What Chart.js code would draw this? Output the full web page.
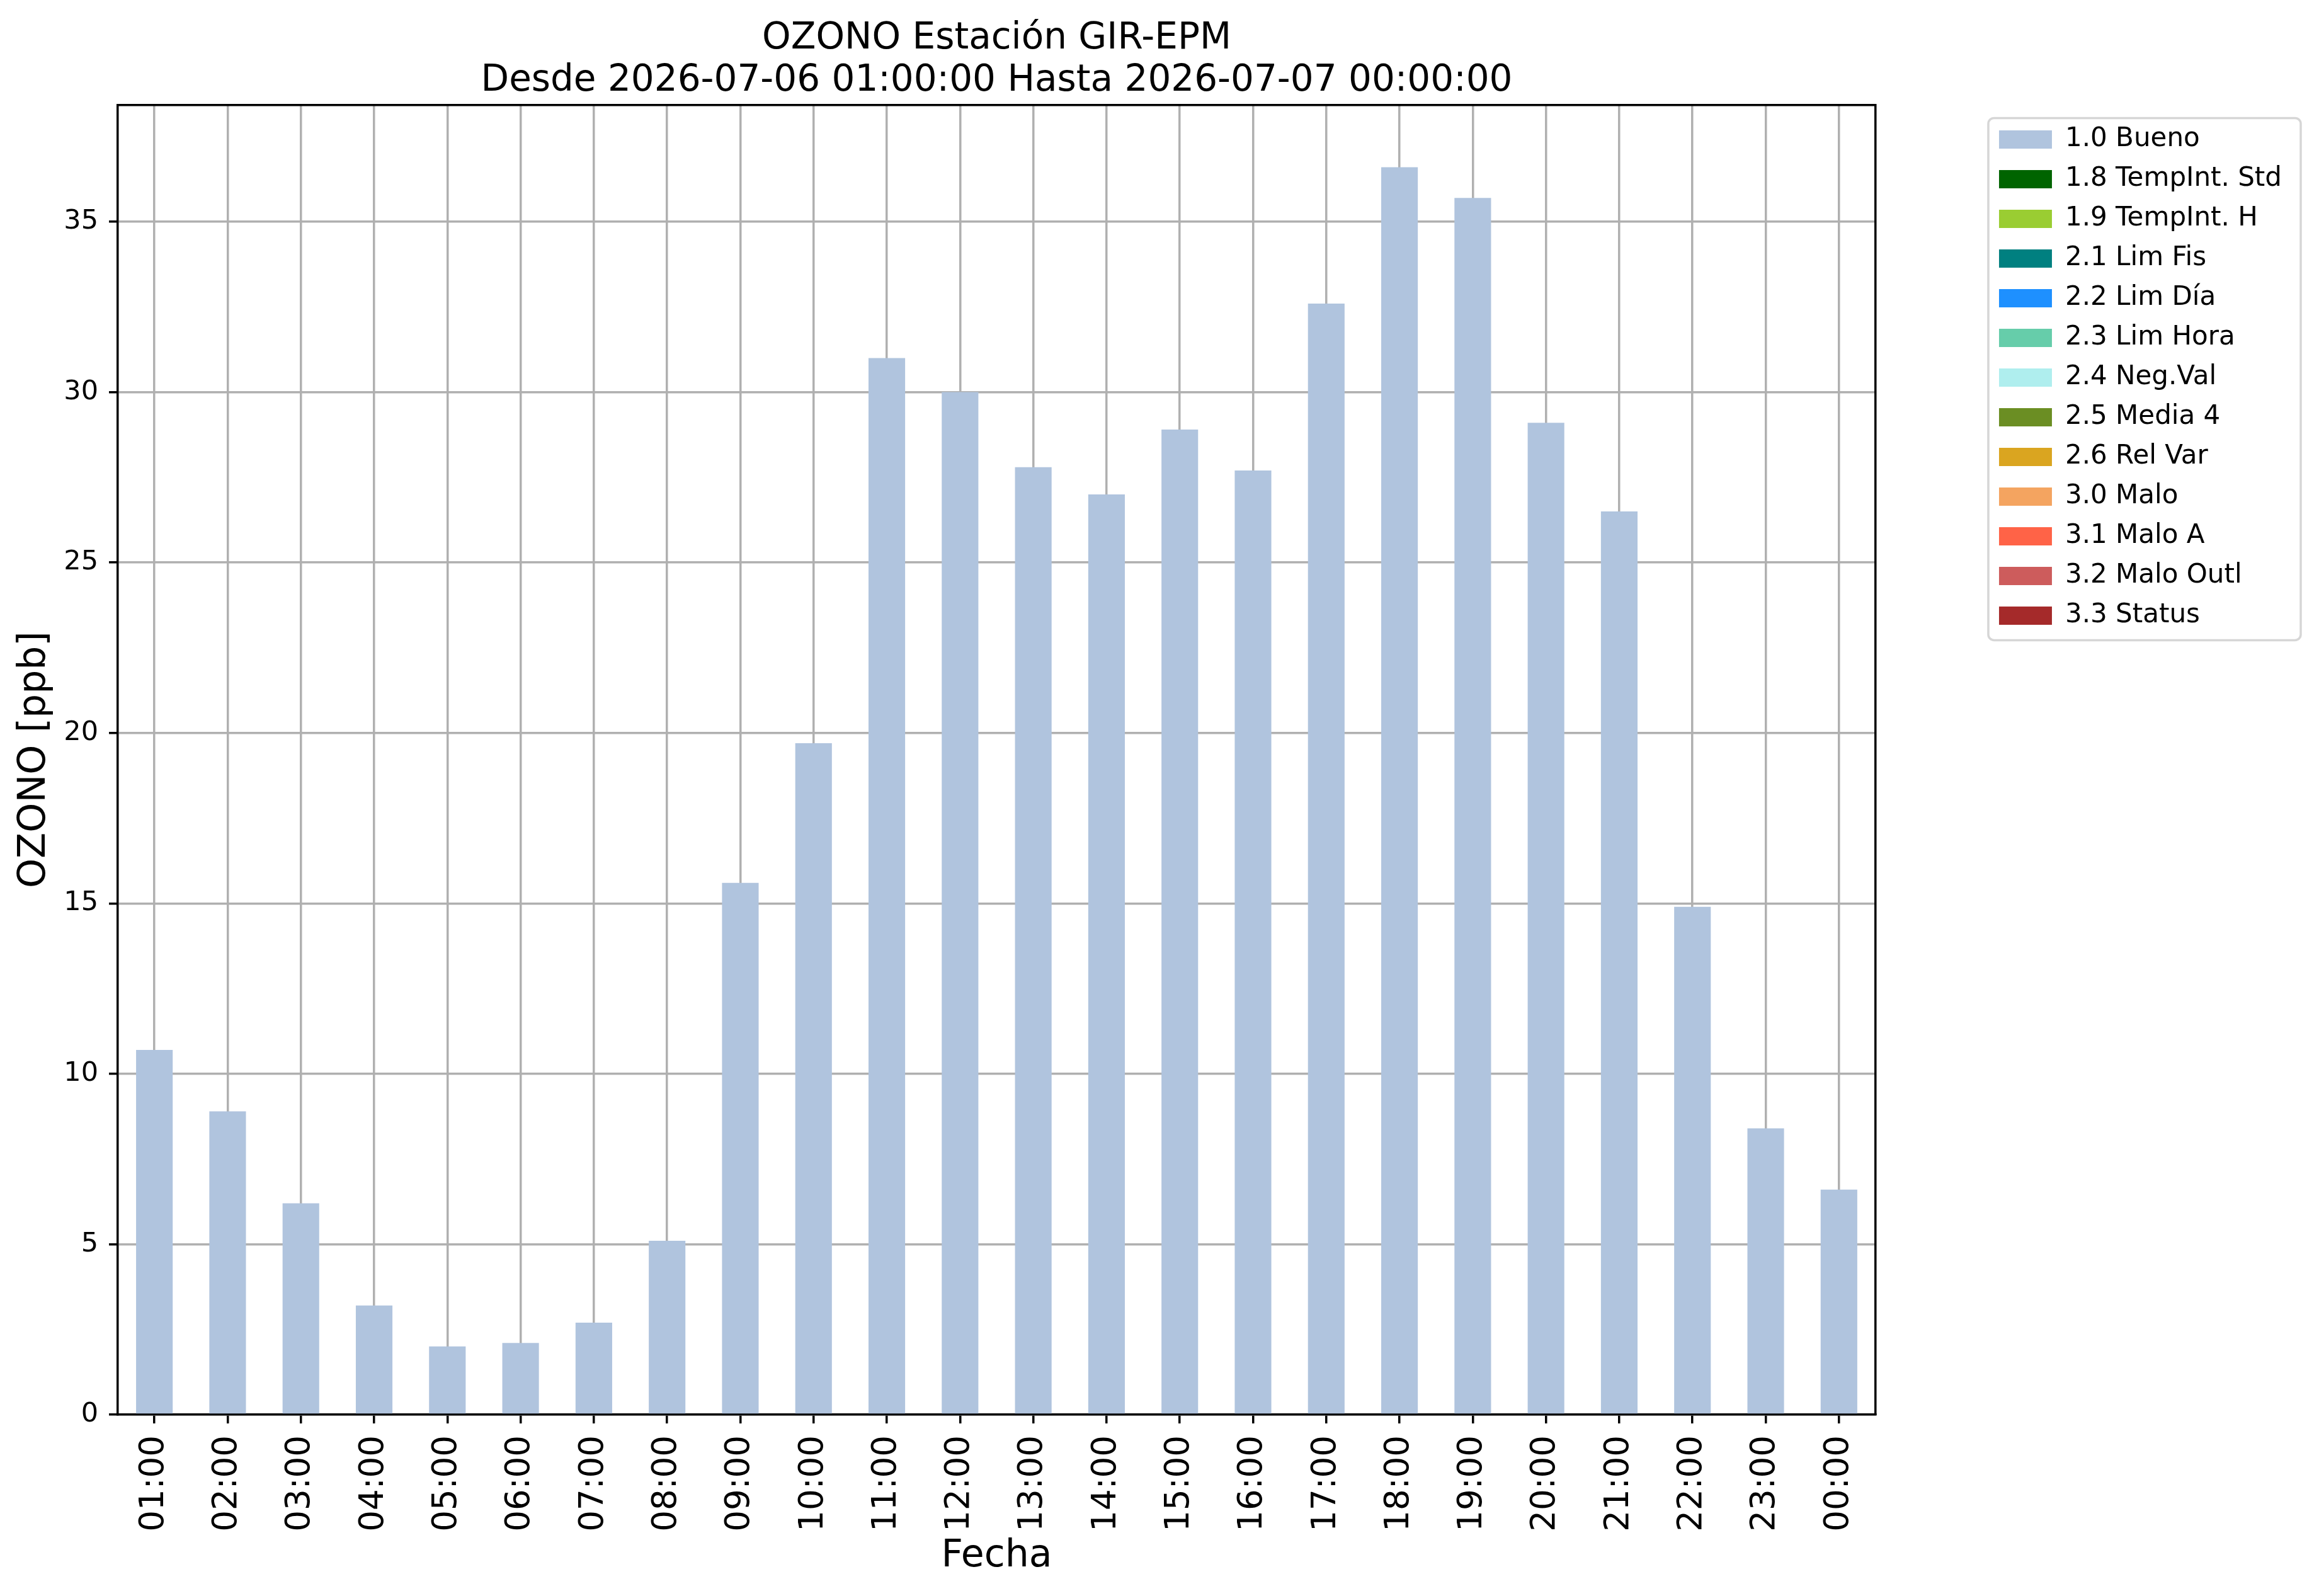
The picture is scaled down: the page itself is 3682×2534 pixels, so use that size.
<!DOCTYPE html>
<html>
<head>
<meta charset="utf-8">
<script src="https://cdn.jsdelivr.net/npm/chart.js@4.4.1/dist/chart.umd.min.js"></script>
<style>
  html, body { margin: 0; padding: 0; background: #ffffff; }
  #contenedor { width: 3682px; height: 2534px; }
</style>
</head>
<body>
<div id="contenedor"><canvas id="graficoOzono"></canvas></div>
<script>
// Horas del dia (eje x)
var horas = ["01:00", "02:00", "03:00", "04:00", "05:00", "06:00", "07:00", "08:00",
  "09:00", "10:00", "11:00", "12:00", "13:00", "14:00", "15:00", "16:00",
  "17:00", "18:00", "19:00", "20:00", "21:00", "22:00", "23:00", "00:00"];

// Ozono [ppb] con bandera 1.0 Bueno
var ozonoBueno = [10.7, 8.9, 6.2, 3.2, 2.0, 2.1, 2.7, 5.1, 15.6, 19.7, 31.0, 30.0,
  27.8, 27.0, 28.9, 27.7, 32.6, 36.6, 35.7, 29.1, 26.5, 14.9, 8.4, 6.6];

// Banderas de calidad y sus colores
var banderas = ["1.0 Bueno", "1.8 TempInt. Std", "1.9 TempInt. H", "2.1 Lim Fis",
  "2.2 Lim Día", "2.3 Lim Hora", "2.4 Neg.Val", "2.5 Media 4", "2.6 Rel Var",
  "3.0 Malo", "3.1 Malo A", "3.2 Malo Outl", "3.3 Status"];
var coloresBanderas = ["#B0C4DE", "#006400", "#9ACD32", "#008080", "#1E90FF", "#66CDAA",
  "#AFEEEE", "#6B8E23", "#DAA520", "#F4A460", "#FF6347", "#CD5C5C", "#A52A2A"];

// Ticks del eje y
var ticksY = [0, 5, 10, 15, 20, 25, 30, 35];
var maxY = 38.43;

var titulo = ["OZONO Estación GIR-EPM", "Desde 2026-07-06 01:00:00 Hasta 2026-07-07 00:00:00"];

Chart.defaults.font.family = "'DejaVu Sans'";
Chart.defaults.color = "#000000";

// Armar los datasets, solo la bandera 1.0 tiene datos
var datasets = [];
for (var i = 0; i < banderas.length; i++) {
  datasets.push({
    label: banderas[i],
    data: i === 0 ? ozonoBueno : [],
    backgroundColor: coloresBanderas[i],
    borderWidth: 0,
    barPercentage: 0.5,
    categoryPercentage: 1.0,
  });
}

// Marco de la leyenda (como el de matplotlib)
const marcoLeyenda = {
  id: "marcoLeyenda",
  afterDraw(chart) {
    const cajas = chart.legend.legendHitBoxes;
    if (!cajas || !cajas.length) return;
    var ancho = 0;
    cajas.forEach((c) => { ancho = Math.max(ancho, c.width); });
    const ult = cajas[cajas.length - 1];
    const x0 = cajas[0].left - 17;
    const y0 = cajas[0].top - 13;
    const x1 = cajas[0].left + ancho + 30;
    const y1 = ult.top + ult.height + 18;
    const ctx = chart.ctx;
    ctx.save();
    ctx.strokeStyle = "#d6d6d6";
    ctx.lineWidth = 3.5;
    ctx.beginPath();
    ctx.roundRect(x0, y0, x1 - x0, y1 - y0, 9);
    ctx.stroke();
    ctx.restore();
  },
};

var rejilla = {
  color: "#b0b0b0",
  lineWidth: 3.5,
  tickLength: 14,
  tickColor: "#000000",
  tickWidth: 3.5,
  offset: false,
};
var borde = { display: true, color: "#000000", width: 3.5 };

new Chart(document.getElementById("graficoOzono"), {
  type: "bar",
  data: { labels: horas, datasets: datasets },
  plugins: [marcoLeyenda],
  options: {
    responsive: true,
    maintainAspectRatio: false,
    animation: false,
    devicePixelRatio: 1,
    layout: { padding: { top: 0, left: 0, bottom: 0, right: 49 } },
    plugins: {
      title: {
        display: true,
        text: titulo,
        fullSize: false,
        color: "#000000",
        font: { size: 58, weight: "normal", lineHeight: 1.15 },
        padding: { top: 29, bottom: 4 },
      },
      legend: {
        position: "right",
        align: "start",
        fullSize: false,
        title: { display: true, text: "", font: { size: 10, lineHeight: 1 }, padding: { top: 3, bottom: 0 } },
        labels: { boxWidth: 84, boxHeight: 29, padding: 21, color: "#000000", font: { size: 42 } },
      },
      tooltip: { enabled: false },
    },
    scales: {
      x: {
        stacked: true,
        z: 1,
        offset: true,
        grid: rejilla,
        border: borde,
        ticks: { maxRotation: 90, minRotation: 90, autoSkip: false, padding: 19, color: "#000000", font: { size: 53 } },
        title: { display: true, text: "Fecha", color: "#000000", font: { size: 60 }, padding: { top: 0, bottom: 27 } },
        afterFit: function (s) { s.height = 288; },
      },
      y: {
        stacked: true,
        z: 1,
        min: 0,
        max: maxY,
        afterBuildTicks: function (s) { s.ticks = ticksY.map((v) => ({ value: v })); },
        grid: rejilla,
        border: borde,
        ticks: { padding: 17, color: "#000000", font: { size: 43 } },
        title: { display: true, text: "OZONO [ppb]", color: "#000000", font: { size: 60 }, padding: { top: 19, bottom: 0 } },
        afterFit: function (s) { s.width = 187; },
      },
      // ejes falsos solo para el marco de arriba y la derecha
      xArriba: {
        type: "category",
        position: "top",
        grid: { display: false },
        ticks: { display: false },
        border: borde,
        afterFit: function (s) { s.height = 0; },
      },
      yDerecha: {
        position: "right",
        min: 0,
        max: maxY,
        grid: { display: false },
        ticks: { display: false },
        border: borde,
        afterFit: function (s) { s.width = 175; },
      },
    },
  },
});
</script>
</body>
</html>
